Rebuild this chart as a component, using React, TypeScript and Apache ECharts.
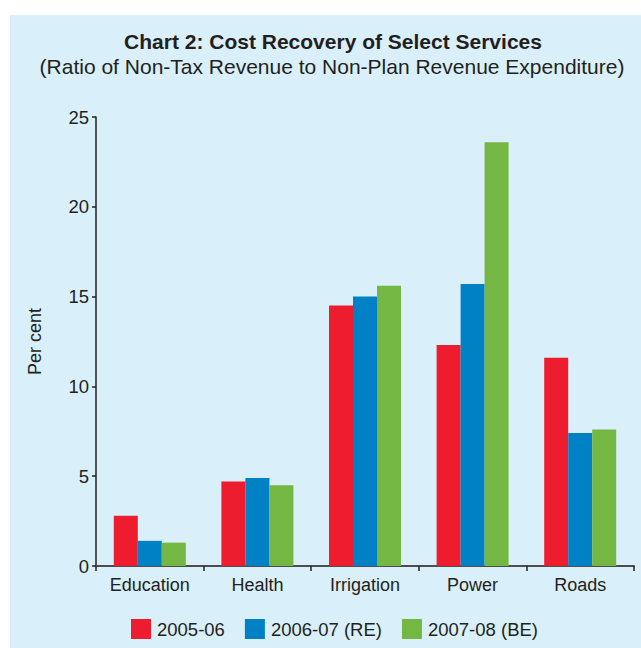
import React, { useEffect, useRef } from "react";
import * as echarts from "echarts";

const categories = ["Education", "Health", "Irrigation", "Power", "Roads"];
const seriesNames = ["2005-06", "2006-07 (RE)", "2007-08 (BE)"];
const values2005 = [2.8, 4.7, 14.5, 12.3, 11.6];
const values2006 = [1.4, 4.9, 15.0, 15.7, 7.4];
const values2007 = [1.3, 4.5, 15.6, 23.6, 7.6];
const seriesColors = ["#ed1c2e", "#0081c6", "#74b843"];

const FONT = "'Liberation Sans', Arial, Helvetica, sans-serif";

export default function App() {
  const ref = useRef<HTMLDivElement>(null);

  useEffect(() => {
    if (!ref.current) return;
    const chart = echarts.init(ref.current, undefined, { renderer: "svg" });
    const data = [values2005, values2006, values2007];
    chart.setOption({
      animation: false,
      backgroundColor: "transparent",
      textStyle: { fontFamily: FONT },
      title: [
        {
          text: "Chart 2: Cost Recovery of Select Services",
          left: 328,
          top: 26,
          textAlign: "center",
          textStyle: { fontFamily: FONT, fontSize: 21, fontWeight: "bold", color: "#231f20" },
        },
        {
          text: "(Ratio of Non-Tax Revenue to Non-Plan Revenue Expenditure)",
          left: 327,
          top: 51,
          textAlign: "center",
          textStyle: { fontFamily: FONT, fontSize: 21, fontWeight: "normal", color: "#231f20" },
        },
      ],
      legend: {
        bottom: 4,
        left: 126,
        itemWidth: 20,
        itemHeight: 20,
        itemGap: 20,
        icon: "rect",
        textStyle: { fontFamily: FONT, fontSize: 18.5, color: "#231f20", padding: [0, 0, 0, 1] },
        data: seriesNames,
      },
      grid: { left: 96, right: 7, top: 117, bottom: 82, containLabel: false },
      xAxis: {
        type: "category",
        data: categories,
        axisLine: { lineStyle: { color: "#4d4d4f", width: 2 } },
        axisTick: { show: true, length: 5, lineStyle: { color: "#231f20", width: 1.5 } },
        axisLabel: { fontFamily: FONT, fontSize: 18, color: "#231f20", margin: 10 },
      },
      yAxis: {
        type: "value",
        min: 0,
        max: 25,
        interval: 5,
        name: "Per cent",
        nameLocation: "middle",
        nameGap: 52,
        nameTextStyle: { fontFamily: FONT, fontSize: 18, color: "#231f20" },
        axisLine: { show: true, lineStyle: { color: "#231f20", width: 1.5 } },
        axisTick: { show: true, length: 4, lineStyle: { color: "#231f20", width: 1.5 } },
        axisLabel: { fontFamily: FONT, fontSize: 18.5, color: "#231f20", margin: 7 },
        splitLine: { show: false },
      },
      series: seriesNames.map((name, i) => ({
        name,
        type: "bar",
        data: data[i],
        barWidth: 24,
        barGap: "0%",
        itemStyle: { color: seriesColors[i] },
      })),
    });
    return () => chart.dispose();
  }, []);

  return (
    <div
      style={{
        position: "absolute",
        left: 10,
        top: 15,
        width: 631,
        height: 633,
        background: "#d9f0fa",
      }}
    >
      <div
        ref={ref}
        style={{ position: "absolute", left: -10, top: -15, width: 641, height: 648 }}
      />
    </div>
  );
}
